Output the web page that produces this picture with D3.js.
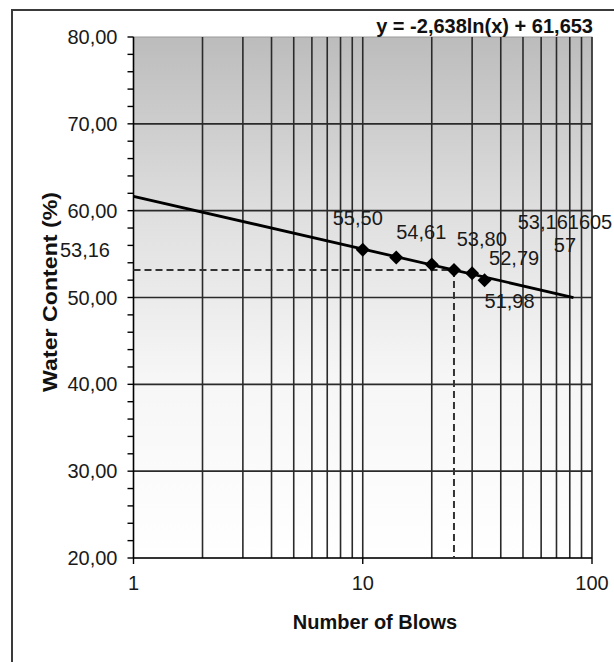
<!DOCTYPE html>
<html>
<head>
<meta charset="utf-8">
<script src="https://cdn.jsdelivr.net/npm/d3@7"></script>
<style>
  html, body { margin: 0; padding: 0; background: #fff; }
  svg { display: block; font-family: "Liberation Sans", Arial, sans-serif; }
</style>
</head>
<body>
<svg id="chart" width="614" height="662"></svg>
<script>
// Liquid limit test: blows vs water content
const blows = [10, 14, 20, 25, 30, 34];
const waterContent = [55.50, 54.61, 53.80, 53.16160557, 52.79, 51.98];
const pointLabels = ["55,50", "54,61", "53,80", "53,161605|57", "52,79", "51,98"];

// logarithmic trend line y = a ln(x) + b, drawn over this blow range
const trendCoef = [-2.638, 61.653];
const trendRange = [1, 83];
const trendLabel = "y = -2,638ln(x) + 61,653";

// liquid limit read at 25 blows
const liquidLimitBlows = [25];
const liquidLimitValue = [53.16];
const liquidLimitLabel = ["53,16"];

const yTicks = [20, 30, 40, 50, 60, 70, 80];
const yTickLabels = ["20,00", "30,00", "40,00", "50,00", "60,00", "70,00", "80,00"];
const yMinorTicks = d3.range(20, 80.001, 2);
const xTicks = [1, 10, 100];
const xTickLabels = ["1", "10", "100"];
const xGrid = [2, 3, 4, 5, 6, 7, 8, 9, 10, 20, 30, 40, 50, 60, 70, 80, 90];

const svg = d3.select("#chart");
const plot = { left: 133.5, right: 592, top: 37, bottom: 558 };

const x = d3.scaleLog().domain([1, 100]).range([plot.left, plot.right]);
const y = d3.scaleLinear().domain([20, 80]).range([plot.bottom, plot.top]);

// outer chart frame (top and left edges)
svg.append("path")
  .attr("d", "M12,662 L12,10 L614,10")
  .attr("fill", "none").attr("stroke", "#3a3a3a").attr("stroke-width", 2);

// plot area background gradient
const defs = svg.append("defs");
const grad = defs.append("linearGradient").attr("id", "bg")
  .attr("x1", 0).attr("y1", 0).attr("x2", 0).attr("y2", 1);
grad.append("stop").attr("offset", "0%").attr("stop-color", "#bcbcbc");
grad.append("stop").attr("offset", "35%").attr("stop-color", "#e0e0e0");
grad.append("stop").attr("offset", "65%").attr("stop-color", "#f6f6f6");
grad.append("stop").attr("offset", "100%").attr("stop-color", "#ffffff");

svg.append("rect")
  .attr("x", plot.left).attr("y", plot.top)
  .attr("width", plot.right - plot.left).attr("height", plot.bottom - plot.top)
  .attr("fill", "url(#bg)").attr("stroke", "#9a9a9a").attr("stroke-width", 1);

const gridColor = "#2a2a2a";

// vertical gridlines at every log step
svg.append("g").selectAll("line").data(xGrid).join("line")
  .attr("x1", d => x(d)).attr("x2", d => x(d))
  .attr("y1", plot.top).attr("y2", plot.bottom)
  .attr("stroke", gridColor).attr("stroke-width", 1.6);
// right edge of plot
svg.append("line")
  .attr("x1", x(100)).attr("x2", x(100)).attr("y1", plot.top).attr("y2", plot.bottom)
  .attr("stroke", gridColor).attr("stroke-width", 1.6);

// horizontal gridlines at major ticks
svg.append("g").selectAll("line").data(yTicks.filter(d => d > 20 && d < 80)).join("line")
  .attr("x1", plot.left).attr("x2", plot.right)
  .attr("y1", d => y(d)).attr("y2", d => y(d))
  .attr("stroke", gridColor).attr("stroke-width", 1.6);

// y axis
const yAxis = svg.append("g").attr("transform", `translate(${plot.left},0)`);
yAxis.append("line").attr("x1", 0).attr("x2", 0).attr("y1", plot.top).attr("y2", plot.bottom)
  .attr("stroke", "#000").attr("stroke-width", 1.6);
yAxis.selectAll("line.minor").data(yMinorTicks).join("line").attr("class", "minor")
  .attr("x1", -6).attr("x2", 0).attr("y1", d => y(d)).attr("y2", d => y(d))
  .attr("stroke", "#000").attr("stroke-width", 1.4);
yAxis.selectAll("text").data(yTicks).join("text")
  .attr("x", -16).attr("y", d => y(d)).attr("dy", "0.35em")
  .attr("text-anchor", "end").attr("font-size", 20).attr("fill", "#1a1a1a")
  .text((d, i) => yTickLabels[i]);

// x axis
const xAxis = svg.append("g").attr("transform", `translate(0,${plot.bottom})`);
xAxis.append("line").attr("x1", plot.left).attr("x2", plot.right).attr("y1", 0).attr("y2", 0)
  .attr("stroke", "#000").attr("stroke-width", 1.6);
xAxis.selectAll("line.tick").data(xTicks).join("line").attr("class", "tick")
  .attr("x1", d => x(d)).attr("x2", d => x(d)).attr("y1", 0).attr("y2", 6)
  .attr("stroke", "#000").attr("stroke-width", 1.4);
xAxis.selectAll("text").data(xTicks).join("text")
  .attr("x", d => x(d)).attr("y", 32)
  .attr("text-anchor", "middle").attr("font-size", 20).attr("fill", "#1a1a1a")
  .text((d, i) => xTickLabels[i]);

// axis titles
svg.append("text")
  .attr("x", 375).attr("y", 629)
  .attr("text-anchor", "middle").attr("font-size", 20).attr("font-weight", "bold")
  .attr("fill", "#111").text("Number of Blows");
svg.append("text")
  .attr("transform", `translate(57,292) rotate(-90)`)
  .attr("text-anchor", "middle").attr("font-size", 20).attr("font-weight", "bold")
  .attr("textLength", 200).attr("lengthAdjust", "spacingAndGlyphs")
  .attr("fill", "#111").text("Water Content (%)");

// dashed lines marking the liquid limit
const dash = svg.append("g").attr("stroke", "#333").attr("stroke-width", 2)
  .attr("stroke-dasharray", "7,4").attr("fill", "none");
dash.append("line")
  .attr("x1", plot.left).attr("x2", x(liquidLimitBlows[0]))
  .attr("y1", y(liquidLimitValue[0])).attr("y2", y(liquidLimitValue[0]));
dash.append("line")
  .attr("x1", x(liquidLimitBlows[0])).attr("x2", x(liquidLimitBlows[0]))
  .attr("y1", y(liquidLimitValue[0])).attr("y2", plot.bottom);
svg.append("text")
  .attr("x", 110).attr("y", y(liquidLimitValue[0]) - 20).attr("dy", "0.35em")
  .attr("text-anchor", "end").attr("font-size", 20).attr("fill", "#1a1a1a")
  .text(liquidLimitLabel[0]);

// trend line
const trendPts = trendRange.map(n => [n, trendCoef[0] * Math.log(n) + trendCoef[1]]);
svg.append("path")
  .attr("d", d3.line().x(d => x(d[0])).y(d => y(d[1]))(trendPts))
  .attr("fill", "none").attr("stroke", "#000").attr("stroke-width", 2.8);

// data points (diamonds)
const diamond = "M0,-7L7,0L0,7L-7,0Z";
svg.append("g").selectAll("path").data(blows).join("path")
  .attr("d", diamond)
  .attr("transform", (d, i) => `translate(${x(d)},${y(waterContent[i])})`)
  .attr("fill", "#000");

// data labels
const labelOffsets = [[-5, -32], [25, -25], [50, -26], [111, -48], [42, -15], [25, 21]];
const labels = svg.append("g").attr("font-size", 20).attr("fill", "#1a1a1a").attr("text-anchor", "middle");
blows.forEach((n, i) => {
  const lines = pointLabels[i].split("|");
  const t = labels.append("text")
    .attr("x", x(n) + labelOffsets[i][0])
    .attr("y", y(waterContent[i]) + labelOffsets[i][1]);
  lines.forEach((s, k) => {
    t.append("tspan").attr("x", x(n) + labelOffsets[i][0])
      .attr("dy", k === 0 ? "0.35em" : "1.15em").text(s);
  });
});

// trend equation
svg.append("text")
  .attr("x", 593).attr("y", 33).attr("text-anchor", "end")
  .attr("font-size", 20).attr("font-weight", "bold").attr("fill", "#111")
  .text(trendLabel);
</script>
</body>
</html>
